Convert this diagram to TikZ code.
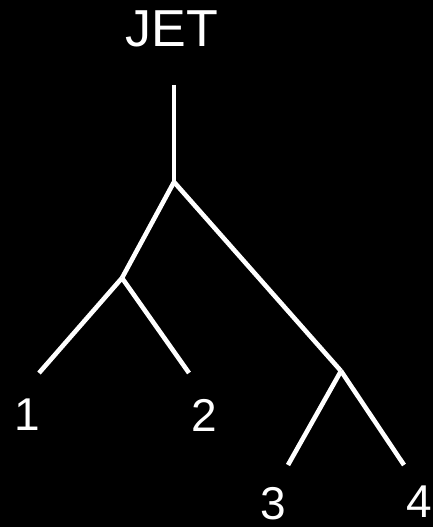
\documentclass[tikz,border=0pt]{standalone}
\usepackage{fontspec}
\setmainfont{Liberation Sans}
\begin{document}
\begin{tikzpicture}[x=1pt,y=1pt,
  branch/.style={draw=white,line width=4.6pt},
  jetlabel/.style={text=white,inner sep=0pt,font=\fontsize{52}{60}\selectfont},
  leaflabel/.style={text=white,inner sep=0pt,font=\fontsize{46}{54}\selectfont}]
\fill[black] (0,0) rectangle (433,527);
\useasboundingbox (0,0) rectangle (433,527);
\node[jetlabel] (jet) at (172,498) {JET};
\coordinate (top) at (174,442);
\coordinate (root) at (174,345);
\coordinate (left) at (122,249);
\coordinate (right) at (341,156);
\coordinate (l1) at (39,154);
\coordinate (l2) at (189,154);
\coordinate (l3) at (288,62);
\coordinate (l4) at (404,62);
\draw[branch] (top) -- (root);
\draw[branch] (root) -- (left);
\draw[branch] (root) -- (right);
\draw[branch] (left) -- (l1);
\draw[branch] (left) -- (l2);
\draw[branch] (right) -- (l3);
\draw[branch] (right) -- (l4);
\node[leaflabel] (n1) at (27,112) {1};
\node[leaflabel] (n2) at (204,112) {2};
\node[leaflabel] (n3) at (273,23) {3};
\node[leaflabel] (n4) at (419,25) {4};
\end{tikzpicture}
\end{document}
